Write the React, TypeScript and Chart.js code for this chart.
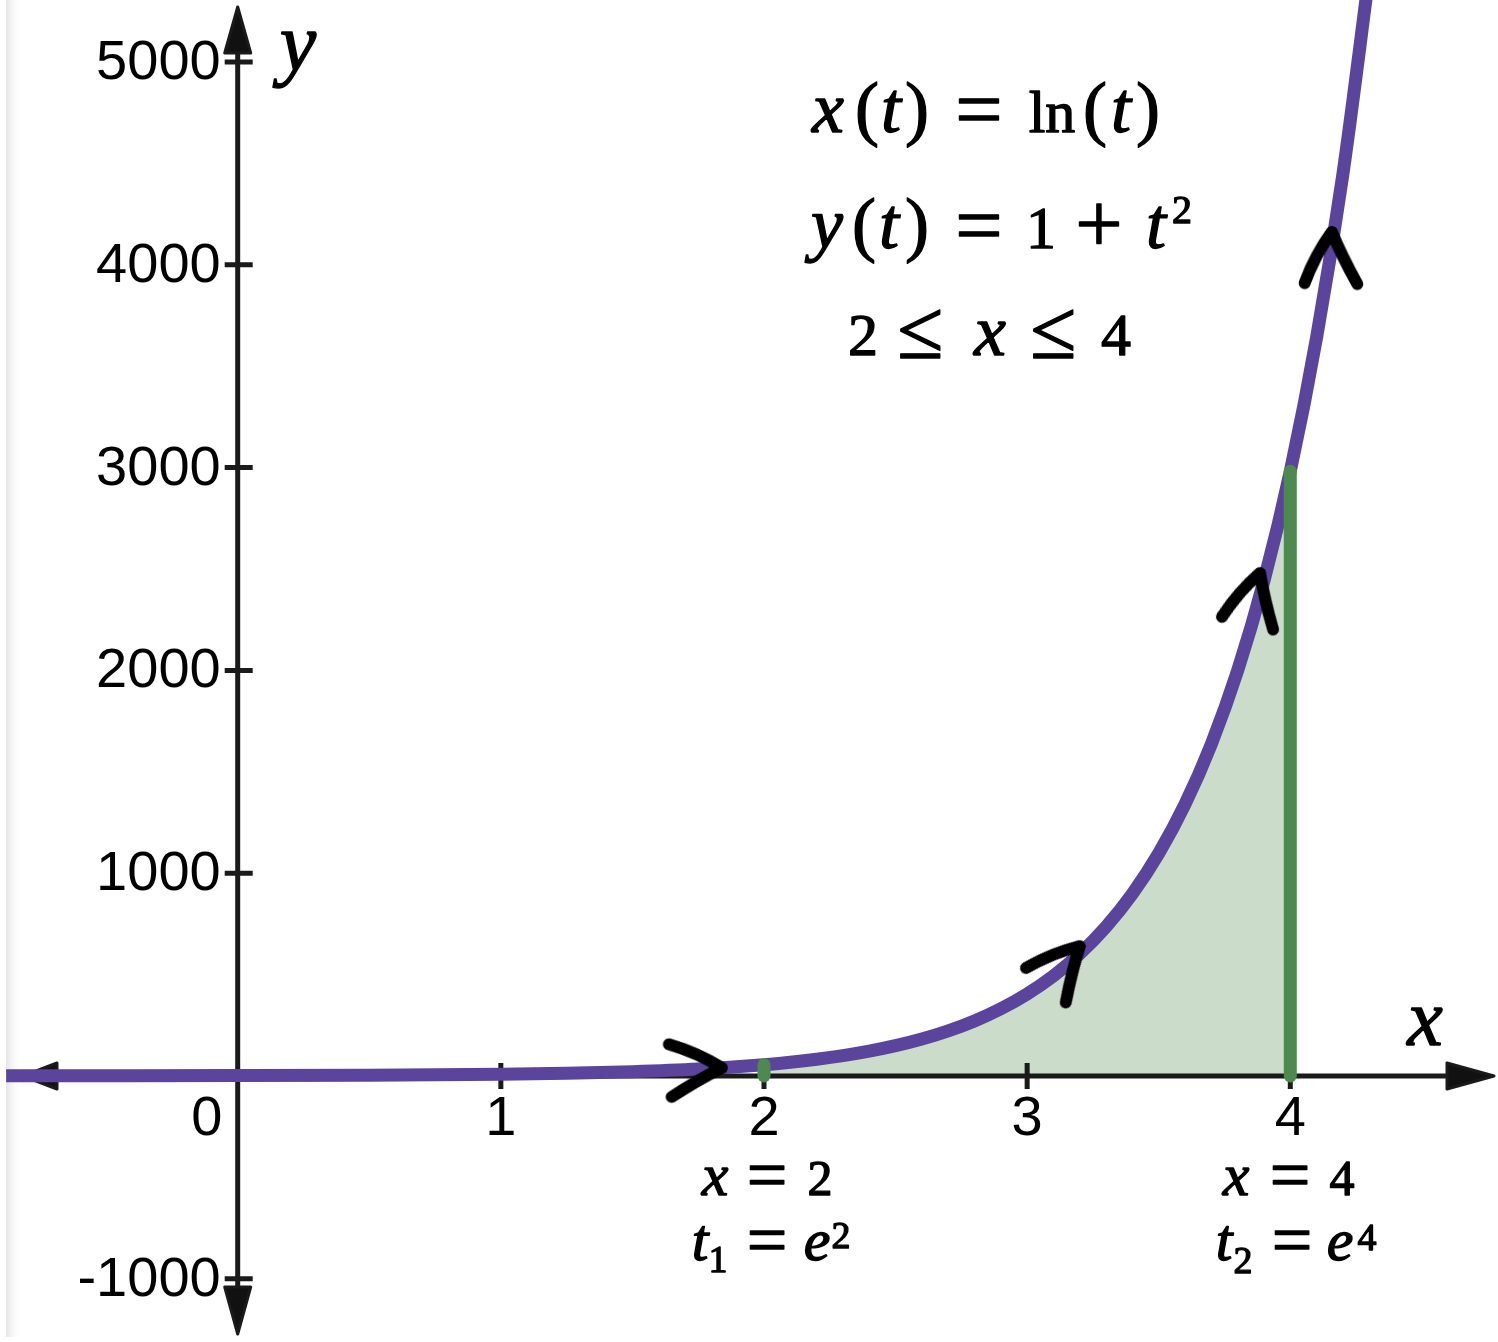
import React, { useEffect, useRef } from 'react';
import { Chart, registerables } from 'chart.js';

Chart.register(...registerables);

// ---- data ----
const curveX = [-0.88, -0.5, 0, 0.5, 1, 1.25, 1.5, 1.75, 2, 2.1, 2.2, 2.3, 2.4, 2.5, 2.6, 2.7, 2.8, 2.9, 3, 3.1, 3.2, 3.3, 3.4, 3.5, 3.6, 3.7, 3.8, 3.9, 4, 4.1, 4.2, 4.3];
const curveY = [1.2, 1.4, 2, 3.7, 8.4, 13.2, 21.1, 34.1, 55.6, 67.7, 82.5, 100.5, 122.5, 149.4, 182.3, 222.4, 271.4, 331.3, 404.4, 493.7, 602.8, 736.1, 898.8, 1097.6, 1340.4, 1637, 1999, 2442, 2982, 3642, 4448, 5433];
const boundaryX = [2, 4];
const boundaryY = [55.6, 2982];
const arrowX = [1.84, 3.2, 3.885, 4.158];
const arrowY = [40, 640, 2480, 4162];
const arrowAngle = [-3, -49, -76, -89];
const xTicks = [1, 2, 3, 4];
const yTicks = [-1000, 1000, 2000, 3000, 4000, 5000];
const originLabel = '0';

const W = 1498;
const H = 1342;
const X_MIN = -0.9033;
const X_MAX = 4.7893;
const Y_MIN = -1311.6;
const Y_MAX = 5305.7;

const PURPLE = '#5a449c';
const GREEN = '#4e8a4f';
const AREA = '#cbdcca';
const AXIS = '#1a1a1a';

const SERIF = '"Liberation Serif", "Times New Roman", serif';
const SANS = '"Liberation Sans", Arial, sans-serif';

// text glyphs: [text, centerX, baseline, font]
type G = [string, number, number, string];
const EI = `italic 72px ${SERIF}`;
const ER = `60px ${SERIF}`;
const EP = `72px ${SERIF}`;
const EO = `84px ${SERIF}`;
const ES = `40px ${SERIF}`;
const BI = `italic 60px ${SERIF}`;
const BR = `50px ${SERIF}`;
const BO = `72px ${SERIF}`;
const BS = `38px ${SERIF}`;

const equationGlyphs: G[] = [
  ['x', 828, 132, EI], ['(', 867, 132, EP], ['t', 891, 132, EI], [')', 917, 132, EP],
  ['=', 979, 138, EO], ['ln', 1052, 132, ER], ['(', 1095, 132, EP], ['t', 1121, 132, EI], [')', 1148, 132, EP],
  ['y', 827, 248, EI], ['(', 864, 248, EP], ['t', 889, 248, EI], [')', 917, 248, EP],
  ['=', 979, 254, EO], ['1', 1041, 248, ER], ['+', 1099, 252, EO], ['t', 1156, 248, EI], ['2', 1182, 223, ES],
  ['2', 863, 355, ER], ['≤', 920, 358, EO], ['x', 990, 355, EI], ['≤', 1053, 358, EO], ['4', 1116, 355, ER],
];

const boundGlyphs: G[] = [
  ['x', 715, 1195, BI], ['=', 767, 1199, BO], ['2', 820, 1195, BR],
  ['t', 700, 1260, BI], ['1', 718, 1272, BS], ['=', 767, 1264, BO], ['e', 817, 1260, BI], ['2', 841, 1248, BS],
  ['x', 1236, 1195, BI], ['=', 1290, 1199, BO], ['4', 1342, 1195, BR],
  ['t', 1224, 1260, BI], ['2', 1243, 1273, BS], ['=', 1292, 1264, BO], ['e', 1340, 1260, BI], ['4', 1367, 1250, BS],
];

const axisTitleGlyphs: G[] = [
  ['y', 298, 70, `italic 82px ${SERIF}`],
  ['x', 1425, 1045, `italic 80px ${SERIF}`],
];

function makeChevron(): HTMLCanvasElement {
  const L = 58;
  const half = (27 * Math.PI) / 180;
  const lw = 12;
  const S = Math.ceil(2 * (L + lw));
  const c = document.createElement('canvas');
  c.width = S;
  c.height = S;
  const g = c.getContext('2d')!;
  const cx = S / 2;
  const cy = S / 2;
  g.strokeStyle = '#000';
  g.lineWidth = lw;
  g.lineCap = 'round';
  g.lineJoin = 'round';
  g.beginPath();
  g.moveTo(cx - L * Math.cos(half), cy - L * Math.sin(half));
  g.quadraticCurveTo(cx - L * 0.45 * Math.cos(half), cy - L * 0.62 * Math.sin(half), cx, cy);
  g.quadraticCurveTo(cx - L * 0.45 * Math.cos(half), cy + L * 0.38 * Math.sin(half), cx - L * Math.cos(half), cy + L * Math.sin(half));
  g.stroke();
  return c;
}

function drawGlyphs(ctx: CanvasRenderingContext2D, glyphs: G[]) {
  ctx.fillStyle = '#000';
  ctx.strokeStyle = '#000';
  ctx.lineWidth = 1.3;
  ctx.lineJoin = 'round';
  ctx.textAlign = 'center';
  ctx.textBaseline = 'alphabetic';
  for (const [t, x, y, f] of glyphs) {
    ctx.font = f;
    ctx.fillText(t, x, y);
    ctx.strokeText(t, x, y);
  }
}

function tri(ctx: CanvasRenderingContext2D, pts: number[][]) {
  ctx.beginPath();
  ctx.moveTo(pts[0][0], pts[0][1]);
  ctx.lineTo(pts[1][0], pts[1][1]);
  ctx.lineTo(pts[2][0], pts[2][1]);
  ctx.closePath();
  ctx.fill();
  ctx.stroke();
}

function drawAxes(chart: any) {
  const ctx: CanvasRenderingContext2D = chart.ctx;
  const xs = chart.scales.x;
  const ys = chart.scales.y;
  const { left, right, top, bottom } = chart.chartArea;
  const x0 = xs.getPixelForValue(0);
  const y0 = ys.getPixelForValue(0);
  ctx.save();
  // faint scan shadow on the left edge
  const grad = ctx.createLinearGradient(left + 6, 0, left + 22, 0);
  grad.addColorStop(0, 'rgba(225,225,225,0.9)');
  grad.addColorStop(1, 'rgba(255,255,255,0)');
  ctx.fillStyle = grad;
  ctx.fillRect(left + 6, top, 16, bottom - 5 - top);

  ctx.strokeStyle = AXIS;
  ctx.lineWidth = 5;
  ctx.lineCap = 'butt';
  ctx.beginPath();
  ctx.moveTo(x0, top + 40);
  ctx.lineTo(x0, bottom - 40);
  ctx.moveTo(left + 45, y0);
  ctx.lineTo(right - 40, y0);
  ctx.stroke();

  // ticks
  ctx.beginPath();
  for (const v of yTicks) {
    const py = ys.getPixelForValue(v);
    ctx.moveTo(x0 - 13, py);
    ctx.lineTo(x0 + 15, py);
  }
  for (const v of xTicks) {
    const px = xs.getPixelForValue(v);
    ctx.moveTo(px, y0 - 13);
    ctx.lineTo(px, y0 + 13);
  }
  ctx.stroke();

  // arrowheads
  ctx.fillStyle = '#111';
  ctx.lineWidth = 3;
  ctx.lineJoin = 'round';
  tri(ctx, [[x0, top + 7], [x0 - 13, top + 53], [x0 + 13, top + 53]]);
  tri(ctx, [[x0, bottom - 8], [x0 - 13, bottom - 55], [x0 + 13, bottom - 55]]);
  tri(ctx, [[left + 23, y0], [left + 57, y0 - 13], [left + 57, y0 + 13]]);
  tri(ctx, [[right - 4, y0], [right - 51, y0 - 13], [right - 51, y0 + 13]]);

  // tick labels
  ctx.fillStyle = '#000';
  ctx.font = `56px ${SANS}`;
  ctx.textBaseline = 'alphabetic';
  ctx.textAlign = 'right';
  for (const v of yTicks) {
    const py = ys.getPixelForValue(v);
    ctx.fillText(String(v), x0 - 17, py + 17);
  }
  ctx.textAlign = 'center';
  for (const v of xTicks) {
    const px = xs.getPixelForValue(v);
    ctx.fillText(String(v), px, y0 + 59);
  }
  ctx.fillText(originLabel, x0 - 31, y0 + 59);
  ctx.restore();
}

const mathPlugin = {
  id: 'mathAxes',
  beforeDatasetDraw(chart: any, args: any) {
    if (chart.data.datasets[args.index].label !== 'curve') return;
    drawAxes(chart);
  },
  afterDatasetsDraw(chart: any) {
    const ctx: CanvasRenderingContext2D = chart.ctx;
    ctx.save();
    drawGlyphs(ctx, equationGlyphs);
    drawGlyphs(ctx, boundGlyphs);
    drawGlyphs(ctx, axisTitleGlyphs);
    ctx.restore();
  },
};

export default function App() {
  const ref = useRef<HTMLCanvasElement | null>(null);

  useEffect(() => {
    if (!ref.current) return;
    const chevron = makeChevron();
    const curvePts = curveX.map((x, i) => ({ x, y: curveY[i] }));
    const areaPts = curvePts.filter((p) => p.x >= boundaryX[0] && p.x <= boundaryX[1]);
    const boundarySets = boundaryX.map((bx, i) => ({
      label: 'boundary' + i,
      data: [{ x: bx, y: 0 }, { x: bx, y: boundaryY[i] }],
      borderColor: GREEN,
      borderWidth: 13,
      borderCapStyle: 'round',
      pointRadius: 0,
      fill: false,
      order: 1,
      clip: false,
    }));
    const chart = new Chart(ref.current, {
      type: 'line',
      data: {
        datasets: [
          {
            label: 'arrows',
            data: arrowX.map((x, i) => ({ x, y: arrowY[i] })),
            showLine: false,
            pointStyle: chevron as any,
            pointRotation: arrowAngle as any,
            pointRadius: 10,
            order: 0,
            clip: false,
          } as any,
          ...(boundarySets as any[]),
          {
            label: 'curve',
            data: curvePts,
            borderColor: PURPLE,
            borderWidth: 13,
            pointRadius: 0,
            cubicInterpolationMode: 'monotone',
            fill: false,
            order: 2,
          },
          {
            label: 'area',
            data: areaPts,
            borderColor: 'rgba(0,0,0,0)',
            borderWidth: 1,
            backgroundColor: AREA,
            fill: 'origin',
            pointRadius: 0,
            cubicInterpolationMode: 'monotone',
            order: 3,
          },
        ],
      },
      options: {
        animation: false,
        responsive: false,
        events: [],
        layout: { padding: 0, autoPadding: false },
        plugins: {
          legend: { display: false },
          tooltip: { enabled: false },
          title: { display: false },
        },
        scales: {
          x: { type: 'linear', min: X_MIN, max: X_MAX, display: false },
          y: { type: 'linear', min: Y_MIN, max: Y_MAX, display: false },
        },
      },
      plugins: [mathPlugin],
    } as any);
    return () => chart.destroy();
  }, []);

  return (
    <div style={{ position: 'absolute', left: 0, top: 0, width: W, height: H, background: '#fff' }}>
      <canvas ref={ref} width={W} height={H} style={{ display: 'block', width: W, height: H }} />
    </div>
  );
}
